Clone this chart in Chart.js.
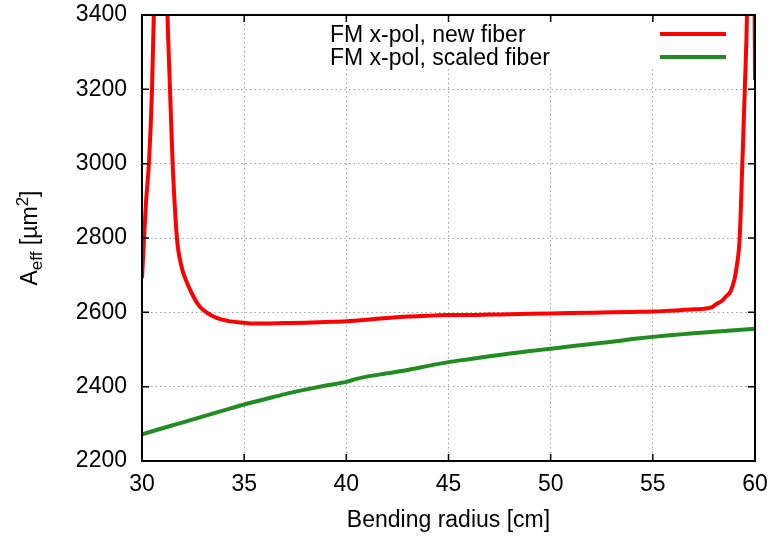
<!DOCTYPE html>
<html>
<head>
<meta charset="utf-8">
<script src="https://cdn.jsdelivr.net/npm/chart.js@4.4.1/dist/chart.umd.min.js"></script>
<style>
  html, body { margin: 0; padding: 0; background: #fff; }
  canvas { display: block; }
</style>
</head>
<body>
<canvas id="chart" width="773" height="539"></canvas>
<script>
// bending radius [cm] and effective area [um^2]
const newFiberRadius = [
  30.0, 30.1, 30.2, 30.34, 30.49, 30.6, 30.9, 31.2, 31.37, 31.5, 31.71, 31.94,
  32.2, 32.43, 32.7, 33.0, 33.65, 34.2, 35, 35.5, 36, 37, 38, 39, 40, 41, 42,
  43, 44, 45, 46, 47, 48, 49, 50, 51, 52, 53, 54, 55, 56, 57, 57.9, 58.1, 58.4,
  58.6, 58.8, 59.0, 59.1, 59.25, 59.38, 59.5, 59.62, 59.8, 59.97, 60
];
const newFiberAeff = [
  2692, 2800, 2900, 3002, 3200, 3450, 4500, 3500, 3200, 3000, 2800, 2722,
  2680, 2652, 2625, 2606, 2585, 2577, 2572, 2570, 2570, 2571, 2572, 2574, 2576, 2580, 2585,
  2589, 2591, 2593, 2593, 2594, 2595, 2596, 2597, 2598, 2599, 2600, 2601, 2602, 2605, 2608, 2614, 2622, 2632,
  2644, 2656, 2690, 2722, 2800, 3000, 3200, 3450, 4500, 3500, 3225
];

const scaledFiberRadius = [
  30, 31, 32, 33, 34, 35, 36, 37, 38, 39, 40, 40.5, 41, 42, 43, 44, 45,
  46, 47, 48, 49, 50, 51, 52, 53, 54, 55, 56, 57, 58, 59, 60
];
const scaledFiberAeff = [
  2272, 2288, 2304, 2320, 2336, 2352, 2366, 2380, 2392, 2403, 2413, 2421, 2427, 2436, 2445, 2456, 2466,
  2474, 2482, 2489, 2496, 2502, 2509, 2515, 2521, 2528, 2534, 2539, 2544, 2548, 2552, 2556
];

const seriesNames = ["FM x-pol, new fiber", "FM x-pol, scaled fiber"];
const seriesColors = ["#ff0000", "#228b22"];

const xTicks = [30, 35, 40, 45, 50, 55, 60];
const yTicks = [2200, 2400, 2600, 2800, 3000, 3200, 3400];

const FONT = "'Liberation Sans', Arial, Helvetica, sans-serif";
const FONT_SIZE = 23;
Chart.defaults.font.family = FONT;
Chart.defaults.font.size = FONT_SIZE;
Chart.defaults.color = "#000";

function toPoints(xs, ys) {
  return xs.map((x, i) => ({ x: x, y: ys[i] }));
}

// keep the plot box where gnuplot put it, ignore label overhang
function noScalePadding(scale) {
  scale.paddingLeft = 0;
  scale.paddingRight = 0;
  scale.paddingTop = 0;
  scale.paddingBottom = 0;
}

// gnuplot style frame, inward ticks, opaque key and y title
const gnuplotLook = {
  id: "gnuplotLook",
  beforeDatasetsDraw(chart) {
    const { ctx, chartArea } = chart;
    ctx.save();
    ctx.fillStyle = "#fff";
    ctx.fillRect(322, chartArea.top + 1, 416, 53);
    ctx.restore();
  },
  afterDatasetsDraw(chart) {
    const { ctx, chartArea, scales } = chart;
    const { left, right, top, bottom } = chartArea;

    // key
    ctx.save();
    ctx.font = FONT_SIZE + "px " + FONT;
    ctx.textBaseline = "middle";
    ctx.textAlign = "left";
    const rows = [36, 59];
    chart.data.datasets.forEach((ds, i) => {
      ctx.fillStyle = "#000";
      ctx.fillText(ds.label, 330, rows[i]);
      ctx.strokeStyle = ds.borderColor;
      ctx.lineWidth = 4;
      ctx.beginPath();
      ctx.moveTo(660, rows[i] - 2);
      ctx.lineTo(726, rows[i] - 2);
      ctx.stroke();
    });

    // ticks pointing inward on all four sides
    ctx.strokeStyle = "#000";
    ctx.lineWidth = 1.5;
    ctx.beginPath();
    xTicks.forEach((v) => {
      const px = scales.x.getPixelForValue(v);
      ctx.moveTo(px, bottom); ctx.lineTo(px, bottom - 7);
      ctx.moveTo(px, top); ctx.lineTo(px, top + 7);
    });
    yTicks.forEach((v) => {
      const py = scales.y.getPixelForValue(v);
      ctx.moveTo(left, py); ctx.lineTo(left + 7, py);
      ctx.moveTo(right, py); ctx.lineTo(right - 7, py);
    });
    ctx.stroke();

    // frame
    ctx.lineWidth = 2;
    ctx.strokeRect(left, top, right - left, bottom - top);
    ctx.restore();
  },
  afterDraw(chart) {
    const { ctx } = chart;
    const parts = [
      { t: "A", size: FONT_SIZE, dy: 0 },
      { t: "eff", size: 17, dy: 5 },
      { t: " [\u00b5m", size: FONT_SIZE, dy: 0 },
      { t: "2", size: 17, dy: -9 },
      { t: "]", size: FONT_SIZE, dy: 0 }
    ];
    ctx.save();
    let total = 0;
    parts.forEach((p) => {
      ctx.font = p.size + "px " + FONT;
      p.w = ctx.measureText(p.t).width;
      total += p.w;
    });
    ctx.translate(37, 238);
    ctx.rotate(-Math.PI / 2);
    ctx.fillStyle = "#000";
    ctx.textBaseline = "alphabetic";
    ctx.textAlign = "left";
    let x = -total / 2;
    parts.forEach((p) => {
      ctx.font = p.size + "px " + FONT;
      ctx.fillText(p.t, x, p.dy);
      x += p.w;
    });
    ctx.restore();
  }
};

new Chart(document.getElementById("chart"), {
  type: "line",
  data: {
    datasets: [
      {
        label: seriesNames[0],
        data: toPoints(newFiberRadius, newFiberAeff),
        borderColor: seriesColors[0],
        backgroundColor: seriesColors[0],
        borderWidth: 4,
        pointRadius: 0,
        cubicInterpolationMode: "monotone",
        fill: false
      },
      {
        label: seriesNames[1],
        data: toPoints(scaledFiberRadius, scaledFiberAeff),
        borderColor: seriesColors[1],
        backgroundColor: seriesColors[1],
        borderWidth: 4,
        pointRadius: 0,
        cubicInterpolationMode: "monotone",
        fill: false
      }
    ]
  },
  options: {
    responsive: false,
    animation: false,
    devicePixelRatio: 1,
    layout: { padding: { top: 15, right: 18, left: 0, bottom: 0 } },
    plugins: {
      legend: { display: false },
      tooltip: { enabled: false }
    },
    scales: {
      x: {
        type: "linear",
        min: 30,
        max: 60,
        afterBuildTicks: (scale) => {
          scale.ticks = xTicks.map((v) => ({ value: v }));
        },
        afterFit: (scale) => {
          scale.height = 78;
          noScalePadding(scale);
        },
        ticks: {
          padding: 10,
          font: { size: FONT_SIZE },
          color: "#000",
          callback: (v) => String(v)
        },
        grid: { color: "#a0a0a0", lineWidth: 1, drawTicks: false },
        border: { display: false, dash: [1.5, 3] },
        title: {
          display: true,
          text: "Bending radius [cm]",
          font: { size: FONT_SIZE },
          color: "#000",
          padding: { top: 0, bottom: 5 }
        }
      },
      y: {
        type: "linear",
        min: 2200,
        max: 3400,
        afterBuildTicks: (scale) => {
          scale.ticks = yTicks.map((v) => ({ value: v }));
        },
        afterFit: (scale) => {
          scale.width = 142;
          noScalePadding(scale);
        },
        ticks: {
          padding: 15,
          font: { size: FONT_SIZE },
          color: "#000",
          callback: (v) => String(v)
        },
        grid: { color: "#a0a0a0", lineWidth: 1, drawTicks: false },
        border: { display: false, dash: [1.5, 3] }
      }
    }
  },
  plugins: [gnuplotLook]
});
</script>
</body>
</html>
